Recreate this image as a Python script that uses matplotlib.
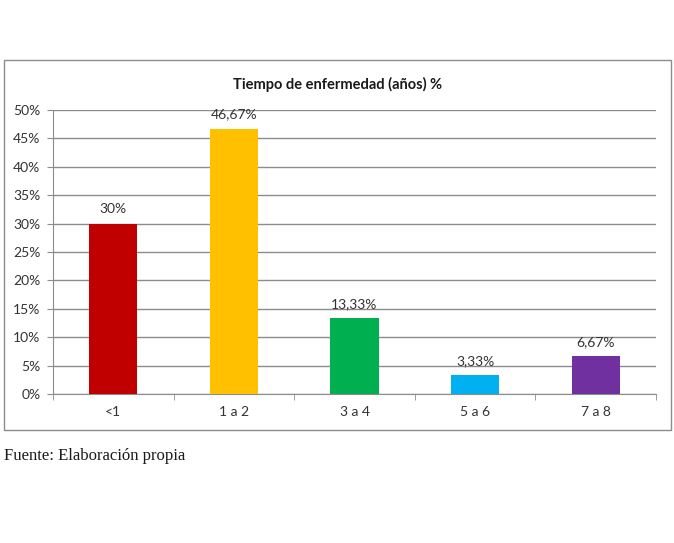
import matplotlib
matplotlib.use("Agg")
import matplotlib.pyplot as plt
from matplotlib.patches import Rectangle
from matplotlib.ticker import MultipleLocator, FuncFormatter

categories = ["<1", "1 a 2", "3 a 4", "5 a 6", "7 a 8"]
values = [30.0, 46.67, 13.33, 3.33, 6.67]
labels = ["30%", "46,67%", "13,33%", "3,33%", "6,67%"]
colors = ["#C00000", "#FFC000", "#00B050", "#00B0F0", "#7030A0"]
title = "Tiempo de enfermedad (años) %"
source = "Fuente: Elaboración propia"

W, H = 674, 543
fig = plt.figure(figsize=(W/100, H/100), dpi=100)
fig.patch.set_facecolor("white")

# chart frame
fig.patches.append(Rectangle((4/W, 1-430/H), (671-4)/W, (430-60)/H, transform=fig.transFigure,
                             fill=False, edgecolor="#8c8c8c", linewidth=1.0))

ax = fig.add_axes([53/W, 1-394/H, (656-53)/W, (394-110)/H])
font = "Lato"
fs = 10
x = list(range(len(categories)))
ax.bar(x, values, width=0.4, color=colors, zorder=3)
ax.set_xlim(-0.5, len(categories)-0.5)
ax.set_ylim(0, 50)
ax.yaxis.set_major_locator(MultipleLocator(5))
ax.yaxis.set_major_formatter(FuncFormatter(lambda v, p: f"{int(round(v))}%"))
ax.grid(axis="y", color="#8c8c8c", linewidth=1.0, zorder=0)
ax.set_axisbelow(True)
for s in ["top", "right"]:
    ax.spines[s].set_visible(False)
ax.spines["left"].set_color("#8c8c8c")
ax.spines["bottom"].set_color("#8c8c8c")
ax.set_xticks(x)
ax.set_xticklabels(categories, fontsize=fs, family=font, color="#333333")
ax.tick_params(axis="x", length=0, pad=9)
ax.set_xticks([i + 0.5 for i in range(-1, len(categories))], minor=True)
ax.tick_params(axis="x", which="minor", length=4, color="#8c8c8c", direction="out")
ax.tick_params(axis="y", length=4, color="#8c8c8c", labelsize=fs, labelcolor="#333333", pad=5)
for lab in ax.get_yticklabels():
    lab.set_family(font)

for xi, v, lab in zip(x, values, labels):
    ax.annotate(lab, (xi, v), xytext=(0, 6), textcoords="offset points", ha="center",
                va="bottom", fontsize=fs, family=font, color="#333333")

fig.text(338/W, 1-84/H, title, ha="center", va="center", fontsize=10.5, fontweight="bold",
         family=font, color="#1a1a1a")
fig.text(4/W, 1-456/H, source, ha="left", va="center", fontsize=12,
         family="Liberation Serif", color="#1a1a1a")

fig.savefig("out.png", dpi=100, facecolor="white")
